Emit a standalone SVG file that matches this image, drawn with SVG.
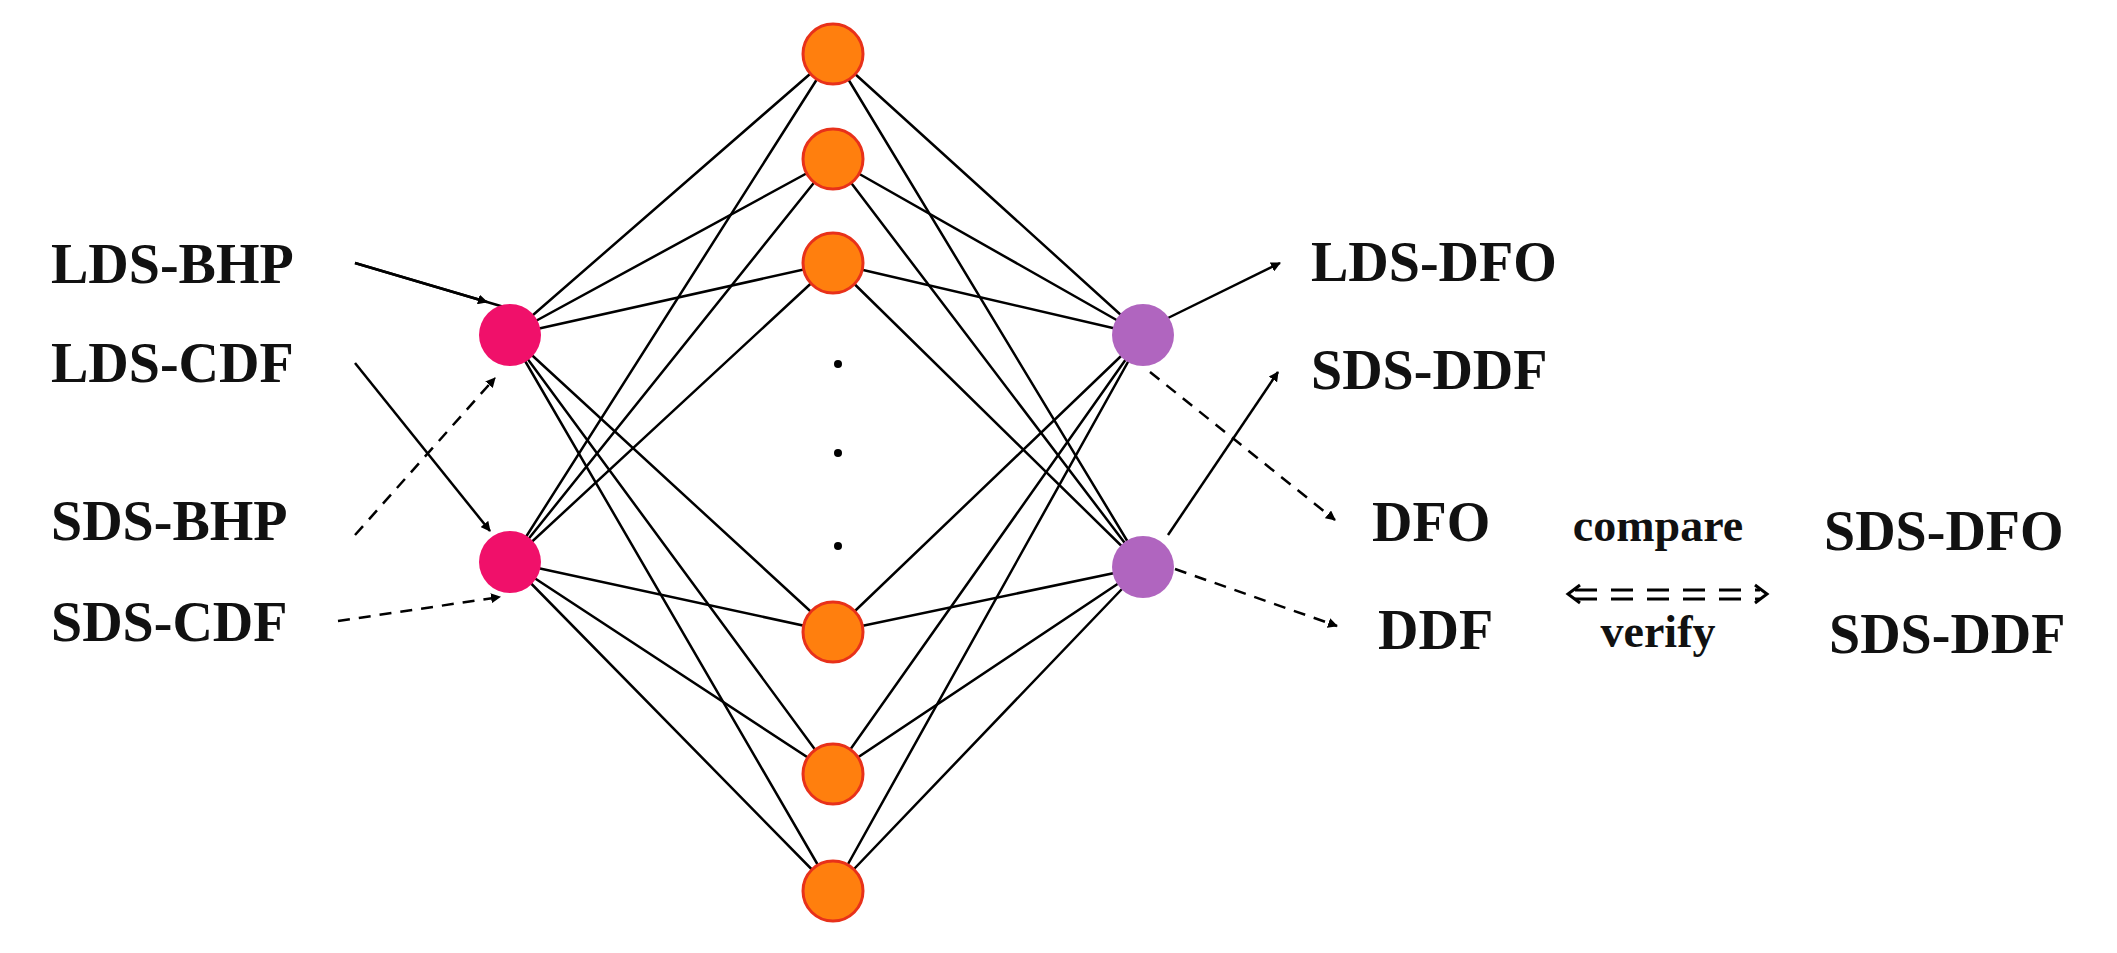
<svg xmlns="http://www.w3.org/2000/svg" width="2117" height="953" viewBox="0 0 2117 953">
<defs>
<style>
text{font-family:"Liberation Serif","Times New Roman",serif;font-weight:bold;fill:#111}
.lbl{font-size:56px}
.sm{font-size:46px}
.w{stroke:#000;stroke-width:2.5;fill:none}
.a{stroke:#000;stroke-width:2.5;fill:none;marker-end:url(#ah)}
.d{stroke:#000;stroke-width:2.5;fill:none;stroke-dasharray:12 9;marker-end:url(#ah)}
.o{fill:#ff7f0e;stroke:#e8311a;stroke-width:3}
.p{fill:#f0106a}
.u{fill:#b065bf}
</style>
<marker id="ah" viewBox="0 0 10 10" refX="9" refY="5" markerWidth="10" markerHeight="10" markerUnits="userSpaceOnUse" orient="auto"><path d="M0,0 L10,5 L0,10 Z" fill="#000" transform="scale(1)"/></marker>
</defs>
<rect width="2117" height="953" fill="#fff"/>
<g id="connectors">
<g class="w">
<path d="M510,335L833,54M510,335L833,159M510,335L833,263M510,335L833,632M510,335L833,774M510,335L833,891"/>
<path d="M510,562L833,54M510,562L833,159M510,562L833,263M510,562L833,632M510,562L833,774M510,562L833,891"/>
<path d="M833,54L1143,335M833,159L1143,335M833,263L1143,335M833,632L1143,335M833,774L1143,335M833,891L1143,335"/>
<path d="M833,54L1143,567M833,159L1143,567M833,263L1143,567M833,632L1143,567M833,774L1143,567M833,891L1143,567"/>
</g>
<path class="a" d="M355,263L504,307" style="marker-end:none"/>
<path d="M355,263L487,302" stroke="#000" stroke-width="2.5" marker-end="url(#ah)"/>
<path d="M355,363L490,531" stroke="#000" stroke-width="2.5" marker-end="url(#ah)"/>
<path class="d" d="M355,535L495,378"/>
<path class="d" d="M338,621L500,597"/>
<path class="a" d="M1168,318L1280,263"/>
<path class="a" d="M1168,535L1278,372"/>
<path class="d" d="M1150,372L1335,520"/>
<path class="d" d="M1175,569L1337,626"/>
<g stroke="#000" stroke-width="3" fill="none">
<path d="M1575,590H1760M1575,599H1760" stroke-dasharray="22 14"/>
<path d="M1580,585L1568,594L1580,603"/>
<path d="M1755,585L1767,594L1755,603"/>
</g>
</g>
<g id="in1"><circle class="p" cx="510" cy="335" r="31"/></g>
<g id="in2"><circle class="p" cx="510" cy="562" r="31"/></g>
<g id="h1"><circle class="o" cx="833" cy="54" r="30"/></g>
<g id="h2"><circle class="o" cx="833" cy="159" r="30"/></g>
<g id="h3"><circle class="o" cx="833" cy="263" r="30"/></g>
<g id="h4"><circle class="o" cx="833" cy="632" r="30"/></g>
<g id="h5"><circle class="o" cx="833" cy="774" r="30"/></g>
<g id="h6"><circle class="o" cx="833" cy="891" r="30"/></g>
<g id="dots" fill="#000"><circle cx="838" cy="364" r="4"/><circle cx="838" cy="453" r="4"/><circle cx="838" cy="546" r="4"/></g>
<g id="out1"><circle class="u" cx="1143" cy="335" r="31"/></g>
<g id="out2"><circle class="u" cx="1143" cy="567" r="31"/></g>
<g id="labels">
<text class="lbl" x="51" y="283">LDS-BHP</text>
<text class="lbl" x="51" y="382">LDS-CDF</text>
<text class="lbl" x="51" y="540">SDS-BHP</text>
<text class="lbl" x="51" y="641">SDS-CDF</text>
<text class="lbl" x="1311" y="281">LDS-DFO</text>
<text class="lbl" x="1311" y="389">SDS-DDF</text>
<text class="lbl" x="1372" y="541">DFO</text>
<text class="lbl" x="1378" y="649">DDF</text>
<text class="sm" x="1658" y="541" text-anchor="middle">compare</text>
<text class="sm" x="1658" y="647" text-anchor="middle">verify</text>
<text class="lbl" x="1824" y="550">SDS-DFO</text>
<text class="lbl" x="1829" y="653">SDS-DDF</text>
</g>
</svg>
